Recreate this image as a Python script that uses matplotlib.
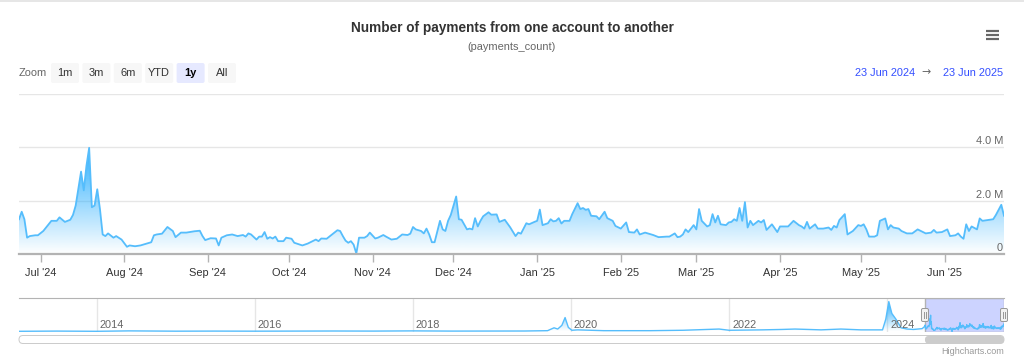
import numpy as np
import pandas as pd
import matplotlib.pyplot as plt
import matplotlib.dates as mdates
import matplotlib.colors as mcolors
from matplotlib.patches import FancyBboxPatch

plt.rcParams["font.family"] = ["Liberation Sans", "DejaVu Sans"]

W, H = 1024, 361
PX = 72 / 100  # points per pixel at dpi 100

# ---- data -------------------------------------------------------------
START = "2024-06-23"
END = "2025-06-23"

# days since START, daily payment counts in millions
day_offset = [
    0, 1, 2, 3, 4, 6, 7, 9, 11, 12, 14, 15, 17, 19, 20, 21, 23, 24, 25, 26,
    27, 28, 29, 30, 31, 32, 33, 35, 36, 38, 40, 41, 43, 45, 47, 49, 50, 51, 53, 55,
    57, 58, 60, 62, 65, 67, 68, 69, 71, 73, 74, 75, 77, 79, 81, 83, 84, 85, 86, 88,
    89, 90, 91, 92, 93, 94, 95, 96, 98, 99, 101, 102, 105, 107, 110, 111, 112, 114, 116, 118,
    119, 120, 121, 122, 123, 124, 125, 126, 128, 129, 130, 132, 133, 135, 136, 138, 140, 141, 142, 144,
    145, 146, 147, 149, 150, 151, 152, 153, 154, 156, 157, 158, 159, 160, 162, 163, 164, 166, 167, 168,
    169, 170, 171, 172, 174, 175, 177, 178, 180, 182, 184, 185, 186, 188, 189, 191, 192, 193, 194, 196,
    197, 198, 199, 200, 201, 202, 204, 205, 207, 208, 209, 210, 211, 212, 214, 215, 217, 218, 220, 221,
    223, 225, 226, 228, 229, 230, 232, 235, 237, 240, 241, 243, 244, 245, 246, 247, 248, 250, 251, 252,
    253, 255, 256, 257, 258, 259, 260, 262, 263, 264, 265, 266, 267, 268, 269, 270, 271, 272, 274, 275,
    276, 277, 279, 281, 282, 285, 287, 289, 290, 291, 292, 293, 295, 296, 298, 300, 301, 302, 303, 304,
    306, 307, 309, 311, 312, 313, 314, 315, 317, 318, 319, 321, 322, 323, 324, 326, 327, 329, 331, 333,
    335, 336, 338, 339, 340, 342, 344, 345, 347, 348, 349, 350, 351, 352, 353, 355, 356, 357, 359, 361,
    362, 364, 365,
]
payments_m = [
    1.30, 1.58, 1.30, 0.61, 0.67, 0.70, 0.70, 0.86, 1.11, 1.24, 1.24, 1.37, 1.20, 1.28, 1.46, 1.81, 3.08, 2.38, 3.30, 3.97,
    1.75, 1.81, 2.42, 1.68, 0.73, 0.67, 0.77, 0.61, 0.67, 0.54, 0.27, 0.32, 0.29, 0.32, 0.38, 0.44, 0.70, 0.73, 0.76, 1.01,
    0.86, 0.63, 0.80, 0.80, 0.85, 0.87, 0.67, 0.52, 0.59, 0.58, 0.32, 0.61, 0.70, 0.73, 0.67, 0.71, 0.65, 0.77, 0.73, 0.54,
    0.65, 0.65, 0.82, 0.57, 0.63, 0.58, 0.65, 0.48, 0.48, 0.61, 0.57, 0.42, 0.32, 0.39, 0.54, 0.48, 0.58, 0.57, 0.73, 0.89,
    0.86, 0.67, 0.50, 0.42, 0.48, 0.35, 0.02, 0.61, 0.61, 0.67, 0.80, 0.58, 0.61, 0.71, 0.65, 0.54, 0.57, 0.65, 0.73, 0.71,
    0.76, 1.01, 0.92, 0.86, 0.77, 0.95, 0.73, 0.44, 0.44, 1.24, 0.92, 0.86, 1.24, 1.46, 2.15, 1.30, 1.28, 0.92, 0.95, 0.92,
    1.34, 1.03, 1.24, 1.41, 1.56, 1.47, 1.48, 1.20, 1.28, 1.00, 0.67, 0.80, 0.76, 1.15, 1.11, 1.20, 1.24, 1.66, 1.08, 1.15,
    1.30, 1.22, 1.24, 1.34, 1.14, 1.24, 1.24, 1.49, 1.90, 1.68, 1.72, 1.65, 1.68, 1.43, 1.41, 1.30, 1.58, 1.34, 1.24, 1.05,
    0.95, 1.18, 0.82, 0.80, 0.92, 0.73, 0.80, 0.71, 0.63, 0.65, 0.65, 0.77, 0.63, 0.65, 0.73, 0.92, 0.82, 1.08, 0.92, 1.68,
    1.24, 1.03, 1.08, 1.49, 1.18, 1.43, 1.11, 1.08, 1.18, 1.20, 1.30, 1.24, 1.72, 1.24, 1.94, 0.99, 1.24, 1.08, 1.24, 1.18,
    1.27, 0.90, 1.11, 0.82, 1.03, 1.03, 1.24, 1.08, 1.03, 0.95, 1.20, 0.95, 1.11, 0.95, 0.95, 0.99, 0.90, 1.05, 0.99, 1.27,
    1.49, 0.73, 0.86, 1.08, 1.05, 1.11, 0.92, 0.65, 0.65, 0.70, 1.24, 1.33, 0.92, 1.08, 0.99, 0.95, 0.86, 0.77, 0.77, 0.92,
    0.82, 0.77, 0.80, 0.90, 0.80, 0.82, 0.92, 0.67, 0.70, 0.77, 0.65, 0.57, 1.11, 0.86, 1.03, 0.92, 1.33, 1.24, 1.27, 1.30,
    1.46, 1.84, 1.43,
]

# older history, only visible in the navigator
history_dates = [
    "2013-01-08", "2013-07-01", "2014-01-01", "2014-06-01", "2015-01-01", "2015-07-01",
    "2016-01-01", "2016-07-01", "2017-01-01", "2017-07-01", "2018-01-01", "2018-07-01",
    "2019-01-01", "2019-06-01", "2019-09-15", "2019-10-15", "2019-11-01", "2019-11-20",
    "2019-12-05", "2019-12-20", "2020-01-05", "2020-02-01", "2020-06-01", "2021-01-01",
    "2021-06-01", "2021-10-01", "2021-11-15", "2022-01-01", "2022-06-01", "2022-09-01",
    "2022-11-01", "2023-03-01", "2023-06-01", "2023-09-01", "2023-12-10", "2023-12-25",
    "2024-01-08", "2024-01-22", "2024-02-10", "2024-03-05", "2024-04-01", "2024-05-01",
    "2024-06-10",
]
history_m = [
    0.05, 0.10, 0.05, 0.15, 0.08, 0.10,
    0.08, 0.10, 0.12, 0.10, 0.15, 0.10,
    0.10, 0.12, 0.20, 0.90, 0.60, 1.50,
    3.40, 1.00, 0.30, 0.40, 0.20, 0.20,
    0.30, 0.50, 0.60, 0.30, 0.40, 0.50,
    0.60, 0.40, 0.60, 0.40, 0.40, 3.00,
    7.30, 4.40, 3.00, 0.90, 0.60, 0.50,
    0.70,
]

y_ticks = [0, 2, 4]
y_tick_labels = ["0", "2.0 M", "4.0 M"]
nav_years = [2014, 2016, 2018, 2020, 2022, 2024]
zoom_buttons = ["1m", "3m", "6m", "YTD", "1y", "All"]
selected_button = "1y"


def axes_px(fig, left, top, right, bottom):
    return fig.add_axes([left / W, 1 - bottom / H, (right - left) / W, (bottom - top) / H])


def gradient_area(ax, x, y, color, line_color, lw, zorder=2):
    poly = ax.fill_between(x, y, 0, facecolor="none", edgecolor="none")
    grad = np.zeros((256, 1, 4))
    grad[..., :3] = mcolors.to_rgb(color)
    grad[:, 0, 3] = np.linspace(0.0, 1.0, 256)
    im = ax.imshow(grad, extent=[x[0], x[-1], 0, y.max()], origin="lower",
                   aspect="auto", interpolation="bilinear", zorder=zorder)
    im.set_clip_path(poly.get_paths()[0], transform=ax.transData)
    ax.plot(x, y, color=line_color, lw=lw, zorder=zorder + 0.5, solid_joinstyle="round")


def to_px(ax, xd, yd):
    dx, dy = ax.transData.transform((xd, yd))
    return dx, H - dy


fig = plt.figure(figsize=(W / 100, H / 100), dpi=100)
fig.patch.set_facecolor("white")

# ---- main chart -------------------------------------------------------
x = mdates.date2num(pd.Timestamp(START) + pd.to_timedelta(day_offset, unit="D"))
y = np.array(payments_m)
x_start = mdates.date2num(pd.Timestamp(START))
x_end = mdates.date2num(pd.Timestamp(END))

ax = axes_px(fig, 19, 93.5, 1004, 254)
gradient_area(ax, x, y, "#2caffe", "#55bdfc", 1.3)
ax.set_xlim(x_start, x_end)
ax.set_ylim(0, 6)
ax.set_yticks([0, 2, 4, 6])
ax.grid(axis="y", color="#e6e6e6", lw=1)
ax.set_axisbelow(True)
ax.tick_params(axis="y", length=0, labelleft=False)
for s in ["top", "left", "right"]:
    ax.spines[s].set_visible(False)
ax.spines["bottom"].set_color("#b3b3b3")
ax.spines["bottom"].set_linewidth(1.6)
ax.xaxis.set_major_locator(mdates.MonthLocator())
ax.xaxis.set_major_formatter(mdates.DateFormatter("%b '%y"))
ax.tick_params(axis="x", length=8 * PX, width=1, color="#b3b3b3",
               labelsize=11 * PX, labelcolor="#333333", pad=6 * PX)
for v, lab in zip(y_ticks, y_tick_labels):
    ax.annotate(lab, xy=(1, v), xycoords=("axes fraction", "data"), xytext=(-1, 6),
                textcoords="offset pixels", ha="right", va="center",
                fontsize=11 * PX, color="#666666")

# ---- navigator --------------------------------------------------------
nx = np.concatenate([mdates.date2num(pd.to_datetime(history_dates)), x])
ny = np.concatenate([np.array(history_m), y])

nav = axes_px(fig, 19, 297.5, 1004, 331.5)
nav.axvspan(x_start, x_end, facecolor="#ccd3ff", edgecolor="#b3b3b3", lw=1, zorder=1)
gradient_area(nav, nx, ny, "#2caffe", "#55bdfc", 1.0, zorder=2)
nav.set_xlim(nx[0], nx[-1])
nav.set_ylim(0, 8.3)
nav.set_xticks([])
nav.set_yticks([])
for s in ["left", "bottom", "right"]:
    nav.spines[s].set_visible(False)
nav.spines["top"].set_color("#b3b3b3")
for yr in nav_years:
    xd = mdates.date2num(pd.Timestamp(f"{yr}-01-01"))
    nav.axvline(xd, color="#e6e6e6", lw=1, zorder=0.5)
    nav.annotate(str(yr), xy=(xd, 0), xycoords=("data", "axes fraction"), xytext=(3, 6.5),
                 textcoords="offset pixels", ha="left", va="center",
                 fontsize=11 * PX, color="#666666", zorder=3)

h0, _ = to_px(nav, x_start, 0)
h1, _ = to_px(nav, x_end, 0)

# ---- overlay: titles, buttons, handles, scrollbar ----------------------
ov = fig.add_axes([0, 0, 1, 1])
ov.set_xlim(0, W)
ov.set_ylim(H, 0)
ov.axis("off")

ov.plot([0, W], [1, 1], color="#e6e6e6", lw=2 * PX)
ov.text(512, 28, "Number of payments from one account to another", ha="center", va="center",
        fontsize=13.6 * PX, fontweight="bold", color="#333333")
ov.text(512, 47, "(payments_count)", ha="center", va="center", fontsize=11 * PX, color="#666666")

for yy in (31, 35, 39):
    ov.plot([986, 999], [yy, yy], color="#666666", lw=2.2 * PX, solid_capstyle="butt")

ov.text(19, 73, "Zoom", ha="left", va="center", fontsize=11 * PX, color="#666666")
for i, lab in enumerate(zoom_buttons):
    cx = 65 + i * 31.4
    sel = lab == selected_button
    ov.add_patch(FancyBboxPatch((cx - 14, 63), 28, 20, boxstyle="round,pad=0,rounding_size=2",
                                fc="#e6e9ff" if sel else "#f7f7f7", ec="none"))
    ov.text(cx, 73.5, lab, ha="center", va="center", fontsize=11 * PX,
            color="#000000" if sel else "#333333", fontweight="bold" if sel else "normal")

ov.text(915, 73.5, "23 Jun 2024", ha="right", va="center", fontsize=11 * PX, color="#334eff")
ov.text(926, 72.5, "\u2192", ha="center", va="center", fontsize=11 * PX, color="#666666",
        family=["DejaVu Sans"])
ov.text(1003, 73.5, "23 Jun 2025", ha="right", va="center", fontsize=11 * PX, color="#334eff")

# navigator handles
for hx in (h0, h1):
    ov.add_patch(FancyBboxPatch((hx - 3.5, 308.5), 7, 13, boxstyle="round,pad=0,rounding_size=1.5",
                                fc="#f2f2f2", ec="#999999", lw=1 * PX, zorder=5))
    for dx in (-1, 1):
        ov.plot([hx + dx, hx + dx], [312, 318], color="#999999", lw=1 * PX, zorder=6)

# scrollbar
ov.add_patch(FancyBboxPatch((19, 335.5), 985, 8, boxstyle="round,pad=0,rounding_size=4",
                            fc="white", ec="#cccccc", lw=1 * PX))
ov.add_patch(FancyBboxPatch((h0, 336), h1 - h0, 7.5, boxstyle="round,pad=0,rounding_size=3.5",
                            fc="#cccccc", ec="none"))

ov.text(1004, 351, "Highcharts.com", ha="right", va="center", fontsize=9 * PX, color="#999999")

fig.savefig("out.png", dpi=100)
